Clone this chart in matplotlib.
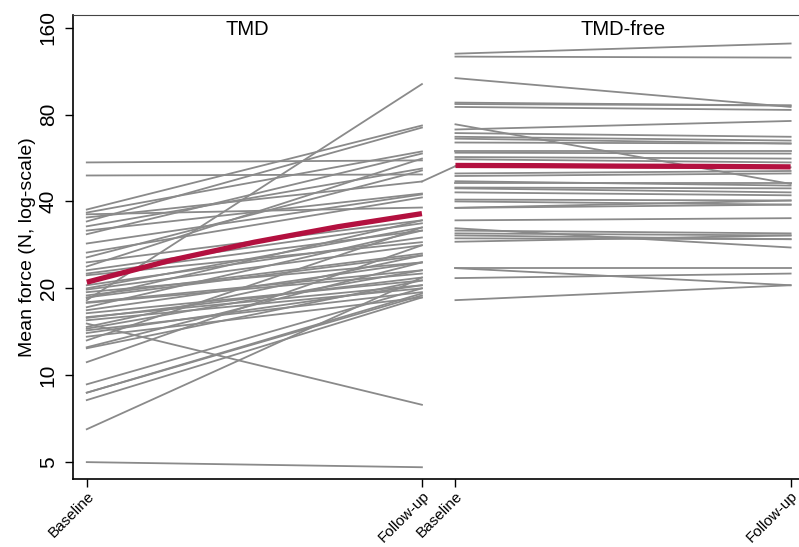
import numpy as np
import matplotlib.pyplot as plt

plt.rcParams['font.family'] = ['Liberation Sans', 'DejaVu Sans']

# mean force (N) per subject, TMD group: baseline and follow-up
# (last subject is joined to the first TMD-free subject, as in the original plot)
tmd_base = [54.6, 49.2, 37.5, 36.6, 36.1, 34.1, 32.8, 31.7, 30.8, 28.6,
            26.6, 25.6, 24.6, 23.8, 23.1, 22.5, 22.2, 20.5, 20.0, 19.8,
            19.4, 18.9, 18.6, 18.5, 18.2, 17.9, 17.8, 17.2, 16.8, 16.4,
            15.9, 15.8, 15.5, 15.1, 14.7, 14.5, 14.3, 14.0, 13.6, 13.2,
            12.5, 12.4, 11.1, 9.3, 8.7, 8.7, 8.2, 6.5, 5.0, 35.2]
tmd_fu = [55.5, 49.6, 73.3, 59.6, 38.1, 72.1, 52.0, 42.6, 58.6, 42.3,
          41.3, 51.2, 34.4, 56.3, 33.6, 31.7, 28.9, 30.0, 32.5, 28.2,
          24.6, 26.4, 26.0, 34.4, 102.0, 23.1, 22.5, 31.7, 24.6, 21.3,
          20.5, 21.8, 20.0, 7.9, 26.0, 23.1, 19.4, 20.5, 18.6, 32.5,
          24.6, 21.3, 28.2, 20.0, 18.9, 19.2, 18.6, 21.8, 4.8, 46.9]

# TMD-free group
free_base = [53.0, 130, 127, 107, 88, 87, 85, 74, 71, 69, 67, 66, 64,
             60, 59, 57, 56, 50, 49, 47, 46.5, 44.7, 44.4, 43, 40.6, 40,
             38, 38, 34.4, 32.3, 31.7, 31, 30.5, 29.8, 29, 23.6, 23.5,
             21.7, 18.2]
free_fu = [52.5, 141, 126, 85, 86, 86, 83, 46, 76, 67, 65, 63.5, 63.5,
           60, 58.6, 56.3, 54.6, 51, 50, 45.4, 46.5, 44.4, 43, 42, 40.3,
           39, 39, 40.3, 35, 27.7, 31, 30.5, 29.6, 29.6, 30.5, 23.6, 20.5,
           22.5, 20.5]

# group mean curves (read at 0, 1/4, 1/2, 3/4, 1 of the interval)
mean_frac = [0, 0.25, 0.5, 0.75, 1.0]
tmd_mean = [21.0, 25.0, 28.9, 32.7, 36.3]
free_mean = [53.3, 53.2, 53.0, 52.9, 52.7]

yticks = [5, 10, 20, 40, 80, 160]
xlabels = ['Baseline', 'Follow-up', 'Baseline', 'Follow-up']
groups = ['TMD', 'TMD-free']

x_tmd = [0, 1]
x_free = [1.1, 2.1]

fig = plt.figure(figsize=(7.99, 5.47), dpi=100)
ax = fig.add_axes([0.0914, 0.1243, 0.9086, 0.8483])

grey = '#8a8a8a'
for b, f in zip(tmd_base, tmd_fu):
    ax.plot(x_tmd, [b, f], color=grey, lw=1.3)
for b, f in zip(free_base, free_fu):
    ax.plot(x_free, [b, f], color=grey, lw=1.3)
# stray connection between the groups
ax.plot([x_tmd[1], x_free[0]], [tmd_fu[-1], free_base[0]], color=grey, lw=1.3)

red = '#b3103f'
ax.plot(x_tmd[0] + np.array(mean_frac), tmd_mean, color=red, lw=3.8,
        solid_capstyle='butt')
ax.plot(x_free[0] + np.array(mean_frac), free_mean, color=red, lw=3.8,
        solid_capstyle='butt')

ax.set_yscale('log')
ax.set_ylim(4.37, 177)
ax.set_xlim(-0.041, 2.125)
ax.set_yticks(yticks)
ax.set_yticklabels([str(t) for t in yticks], rotation=90, va='center',
                   fontsize=15)
ax.minorticks_off()
ax.set_xticks(x_tmd + x_free)
ax.set_xticklabels(xlabels, rotation=45, ha='right', rotation_mode='anchor',
                   fontsize=11)
ax.tick_params(axis='y', length=6, width=1, pad=5)
ax.tick_params(axis='x', length=6, width=1, pad=1)
ax.set_ylabel('Mean force (N, log-scale)', fontsize=14, labelpad=2)

ax.spines['right'].set_visible(False)
ax.spines['top'].set_color('#444444')
for s in ['left', 'bottom']:
    ax.spines[s].set_linewidth(1.2)

ax.text(0.48, 158, groups[0], ha='center', va='center', fontsize=14.5)
ax.text(1.6, 158, groups[1], ha='center', va='center', fontsize=14.5)

plt.savefig('out.png', dpi=100)
